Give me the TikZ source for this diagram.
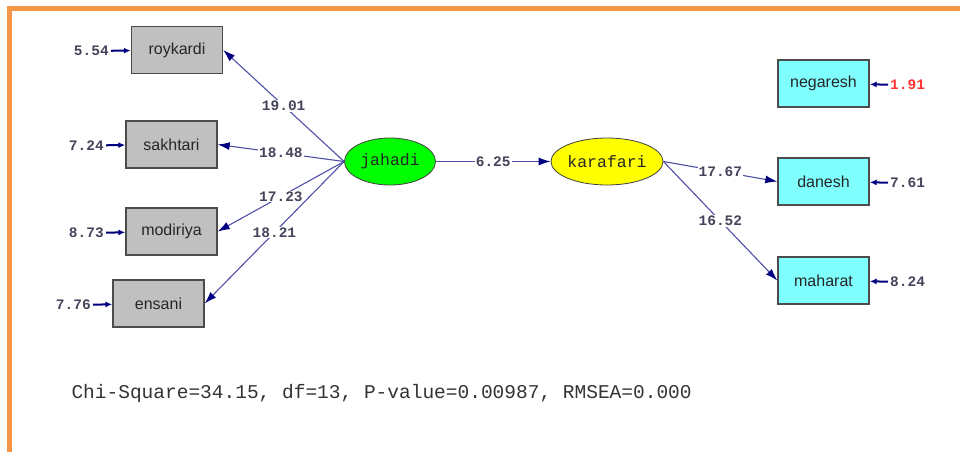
\documentclass[tikz,border=0pt]{standalone}
\usepackage{fontspec}
\setmainfont{Liberation Sans}
\newfontfamily\lisrelmono{Liberation Mono}
\usetikzlibrary{arrows.meta,shapes.geometric}

\definecolor{frameorange}{HTML}{F79646}
\definecolor{loadblue}{HTML}{5050A8}
\definecolor{tipnavy}{HTML}{000080}
\definecolor{boxgray}{HTML}{C0C0C0}
\definecolor{boxcyan}{HTML}{80FFFF}
\definecolor{latgreen}{HTML}{00FF00}
\definecolor{latyellow}{HTML}{FFFF00}
\definecolor{lbltext}{HTML}{44445A}
\definecolor{badred}{HTML}{FF3333}

\begin{document}
\begin{tikzpicture}[x=1pt,y=-1pt]
    \tikzstyle{observed}=[rectangle,draw=black!70,line width=1.4pt,minimum width=91pt,minimum height=47pt,inner sep=0pt,text=black!85,font=\fontsize{16}{18}\selectfont]
    \tikzstyle{latent}=[ellipse,draw=black!75,line width=0.8pt,minimum width=91pt,minimum height=47pt,inner sep=0pt,text=black!85,font=\lisrelmono\fontsize{16.5}{18}\selectfont]
    \tikzstyle{coef}=[fill=white,inner sep=1pt,text=lbltext,font=\lisrelmono\bfseries\fontsize{14.5}{16}\selectfont]
    \tikzstyle{errval}=[inner sep=2pt,text=lbltext,font=\lisrelmono\bfseries\fontsize{14.5}{16}\selectfont]
    \tikzstyle{loading}=[draw=loadblue,line width=1.1pt,-{Latex[length=12pt,width=8pt,color=tipnavy]}]
    \tikzstyle{errarrow}=[draw=tipnavy,line width=2pt,-{Latex[length=7pt,width=6pt]}]

    \useasboundingbox (0,0) rectangle (960,452);
    \draw[frameorange,line width=4.5pt] (960,8.5) -- (9.5,8.5) -- (9.5,452);

    % jahadi and its indicators
    \node (jahadi)[latent,fill=latgreen] at (390,161.5) {jahadi};
    \node (roykardi)[observed,fill=boxgray] at (177,50) {roykardi};
    \node (sakhtari)[observed,fill=boxgray] at (171.5,144.5) {sakhtari};
    \node (modiriya)[observed,fill=boxgray] at (171.5,231.5) {modiriya};
    \node (ensani)[observed,fill=boxgray] at (158.5,303.5) {ensani};

    % karafari and its indicators
    \node (karafari)[latent,fill=latyellow] at (607,161.5) {karafari};
    \node (negaresh)[observed,fill=boxcyan] at (823.5,83.5) {negaresh};
    \node (danesh)[observed,fill=boxcyan] at (823.5,181.5) {danesh};
    \node (maharat)[observed,fill=boxcyan] at (823.5,280.5) {maharat};

    % error variances
    \node (e1)[errval,anchor=east] at (111,51) {5.54};
    \node (e2)[errval,anchor=east] at (106,145.5) {7.24};
    \node (e3)[errval,anchor=east] at (106,233) {8.73};
    \node (e4)[errval,anchor=east] at (93,305) {7.76};
    \node (e5)[errval,anchor=west,text=badred] at (888,85) {1.91};
    \node (e6)[errval,anchor=west] at (888,183) {7.61};
    \node (e7)[errval,anchor=west] at (888,282) {8.24};

    \draw[errarrow] (e1) -- (roykardi);
    \draw[errarrow] (e2) -- (sakhtari);
    \draw[errarrow] (e3) -- (modiriya);
    \draw[errarrow] (e4) -- (ensani);
    \draw[errarrow] (e5) -- (negaresh);
    \draw[errarrow] (e6) -- (danesh);
    \draw[errarrow] (e7) -- (maharat);

    % loadings
    \draw[loading] (jahadi.west) -- (roykardi.east) node[coef,midway] {19.01};
    \draw[loading] (jahadi.west) -- (sakhtari.east) node[coef,midway] {18.48};
    \draw[loading] (jahadi.west) -- (modiriya.east) node[coef,midway] {17.23};
    \draw[loading] (jahadi.west) -- (ensani.east) node[coef,midway] {18.21};
    \draw[loading] (jahadi.east) -- (karafari.west) node[coef,midway] {6.25};
    \draw[loading] (karafari.east) -- (danesh.west) node[coef,midway] {17.67};
    \draw[loading] (karafari.east) -- (maharat.west) node[coef,midway] {16.52};

    \node (fit)[anchor=west,text=black!80,font=\lisrelmono\fontsize{19.5}{22}\selectfont] at (68,393) {Chi-Square=34.15, df=13, P-value=0.00987, RMSEA=0.000};
\end{tikzpicture}
\end{document}
